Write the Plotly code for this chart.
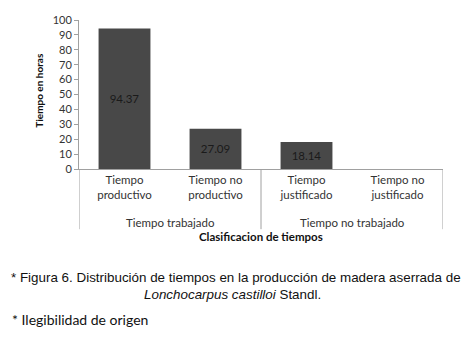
import plotly.graph_objects as go

categories = ["Tiempo<br>productivo", "Tiempo no<br>productivo", "Tiempo<br>justificado", "Tiempo no<br>justificado"]
values = [94.37, 27.09, 18.14, 0]
labels = ["94.37", "27.09", "18.14", ""]
groups = ["Tiempo trabajado", "Tiempo no trabajado"]
group_centers = [0.5, 2.5]
group_edges = [-0.5, 1.5, 3.5]
y_ticks = list(range(0, 101, 10))

x_idx = list(range(len(categories)))

fig = go.Figure()
fig.add_trace(go.Bar(
    x=x_idx, y=values, text=labels,
    textposition="inside", insidetextanchor="middle",
    textfont=dict(family="Lato", size=11.5, color="#1a1a1a"),
    marker=dict(color="#484848", line=dict(width=0)),
    width=0.57,
))

shapes = [dict(type="line", xref="x", yref="paper", x0=e, x1=e, y0=0, y1=-0.404,
               line=dict(color="#a0a0a0", width=1)) for e in group_edges]

annotations = [dict(text=g, xref="x", yref="paper", x=c, y=-0.359, xanchor="center", yanchor="middle",
                    showarrow=False, font=dict(family="Lato", size=11.5, color="#333"))
               for g, c in zip(groups, group_centers)]

annotations += [
    dict(text="<b>Clasificacion de tiempos</b>", xref="paper", yref="paper", x=0.5, y=-0.455,
         xanchor="center", yanchor="middle", showarrow=False,
         font=dict(family="Lato", size=11.5, color="#111")),
    dict(text="<b>Tiempo en horas</b>", xref="paper", yref="paper", x=-0.110, y=0.532, textangle=-90,
         xanchor="center", yanchor="middle", showarrow=False,
         font=dict(family="Lato", size=10, color="#111")),
    dict(text="* Figura 6. Distribución de tiempos en la producción de madera aserrada de",
         xref="paper", yref="paper", x=-0.193, y=-0.731, xanchor="left", yanchor="middle",
         showarrow=False, font=dict(family="Liberation Sans", size=13.4, color="#111")),
    dict(text="<i>Lonchocarpus castilloi</i> Standl.",
         xref="paper", yref="paper", x=0.423, y=-0.840, xanchor="center", yanchor="middle",
         showarrow=False, font=dict(family="Liberation Sans", size=13.4, color="#111")),
    dict(text="* Ilegibilidad de origen",
         xref="paper", yref="paper", x=-0.190, y=-1.013, xanchor="left", yanchor="middle",
         showarrow=False, font=dict(family="Lato", size=14, color="#111")),
]

fig.update_layout(
    width=467, height=342,
    margin=dict(l=71, r=32, t=5, b=181),
    paper_bgcolor="white", plot_bgcolor="white",
    showlegend=False,
    font=dict(family="Lato", size=11, color="#333"),
    xaxis=dict(
        range=[-0.5, 3.5], tickvals=x_idx, ticktext=categories,
        showline=True, linecolor="#a0a0a0", linewidth=1,
        ticks="", showgrid=False, zeroline=False,
        tickfont=dict(family="Lato", size=11.5, color="#333"),
    ),
    yaxis=dict(
        range=[0, 100], tickvals=y_ticks, showline=True, linecolor="#a0a0a0", linewidth=1,
        ticks="outside", ticklen=4, tickcolor="#a0a0a0", showgrid=False, zeroline=False,
        ticklabeloverflow="allow",
        tickfont=dict(family="Lato", size=11, color="#333"),
    ),
    shapes=shapes,
    annotations=annotations,
)

fig.write_html("out.html")
